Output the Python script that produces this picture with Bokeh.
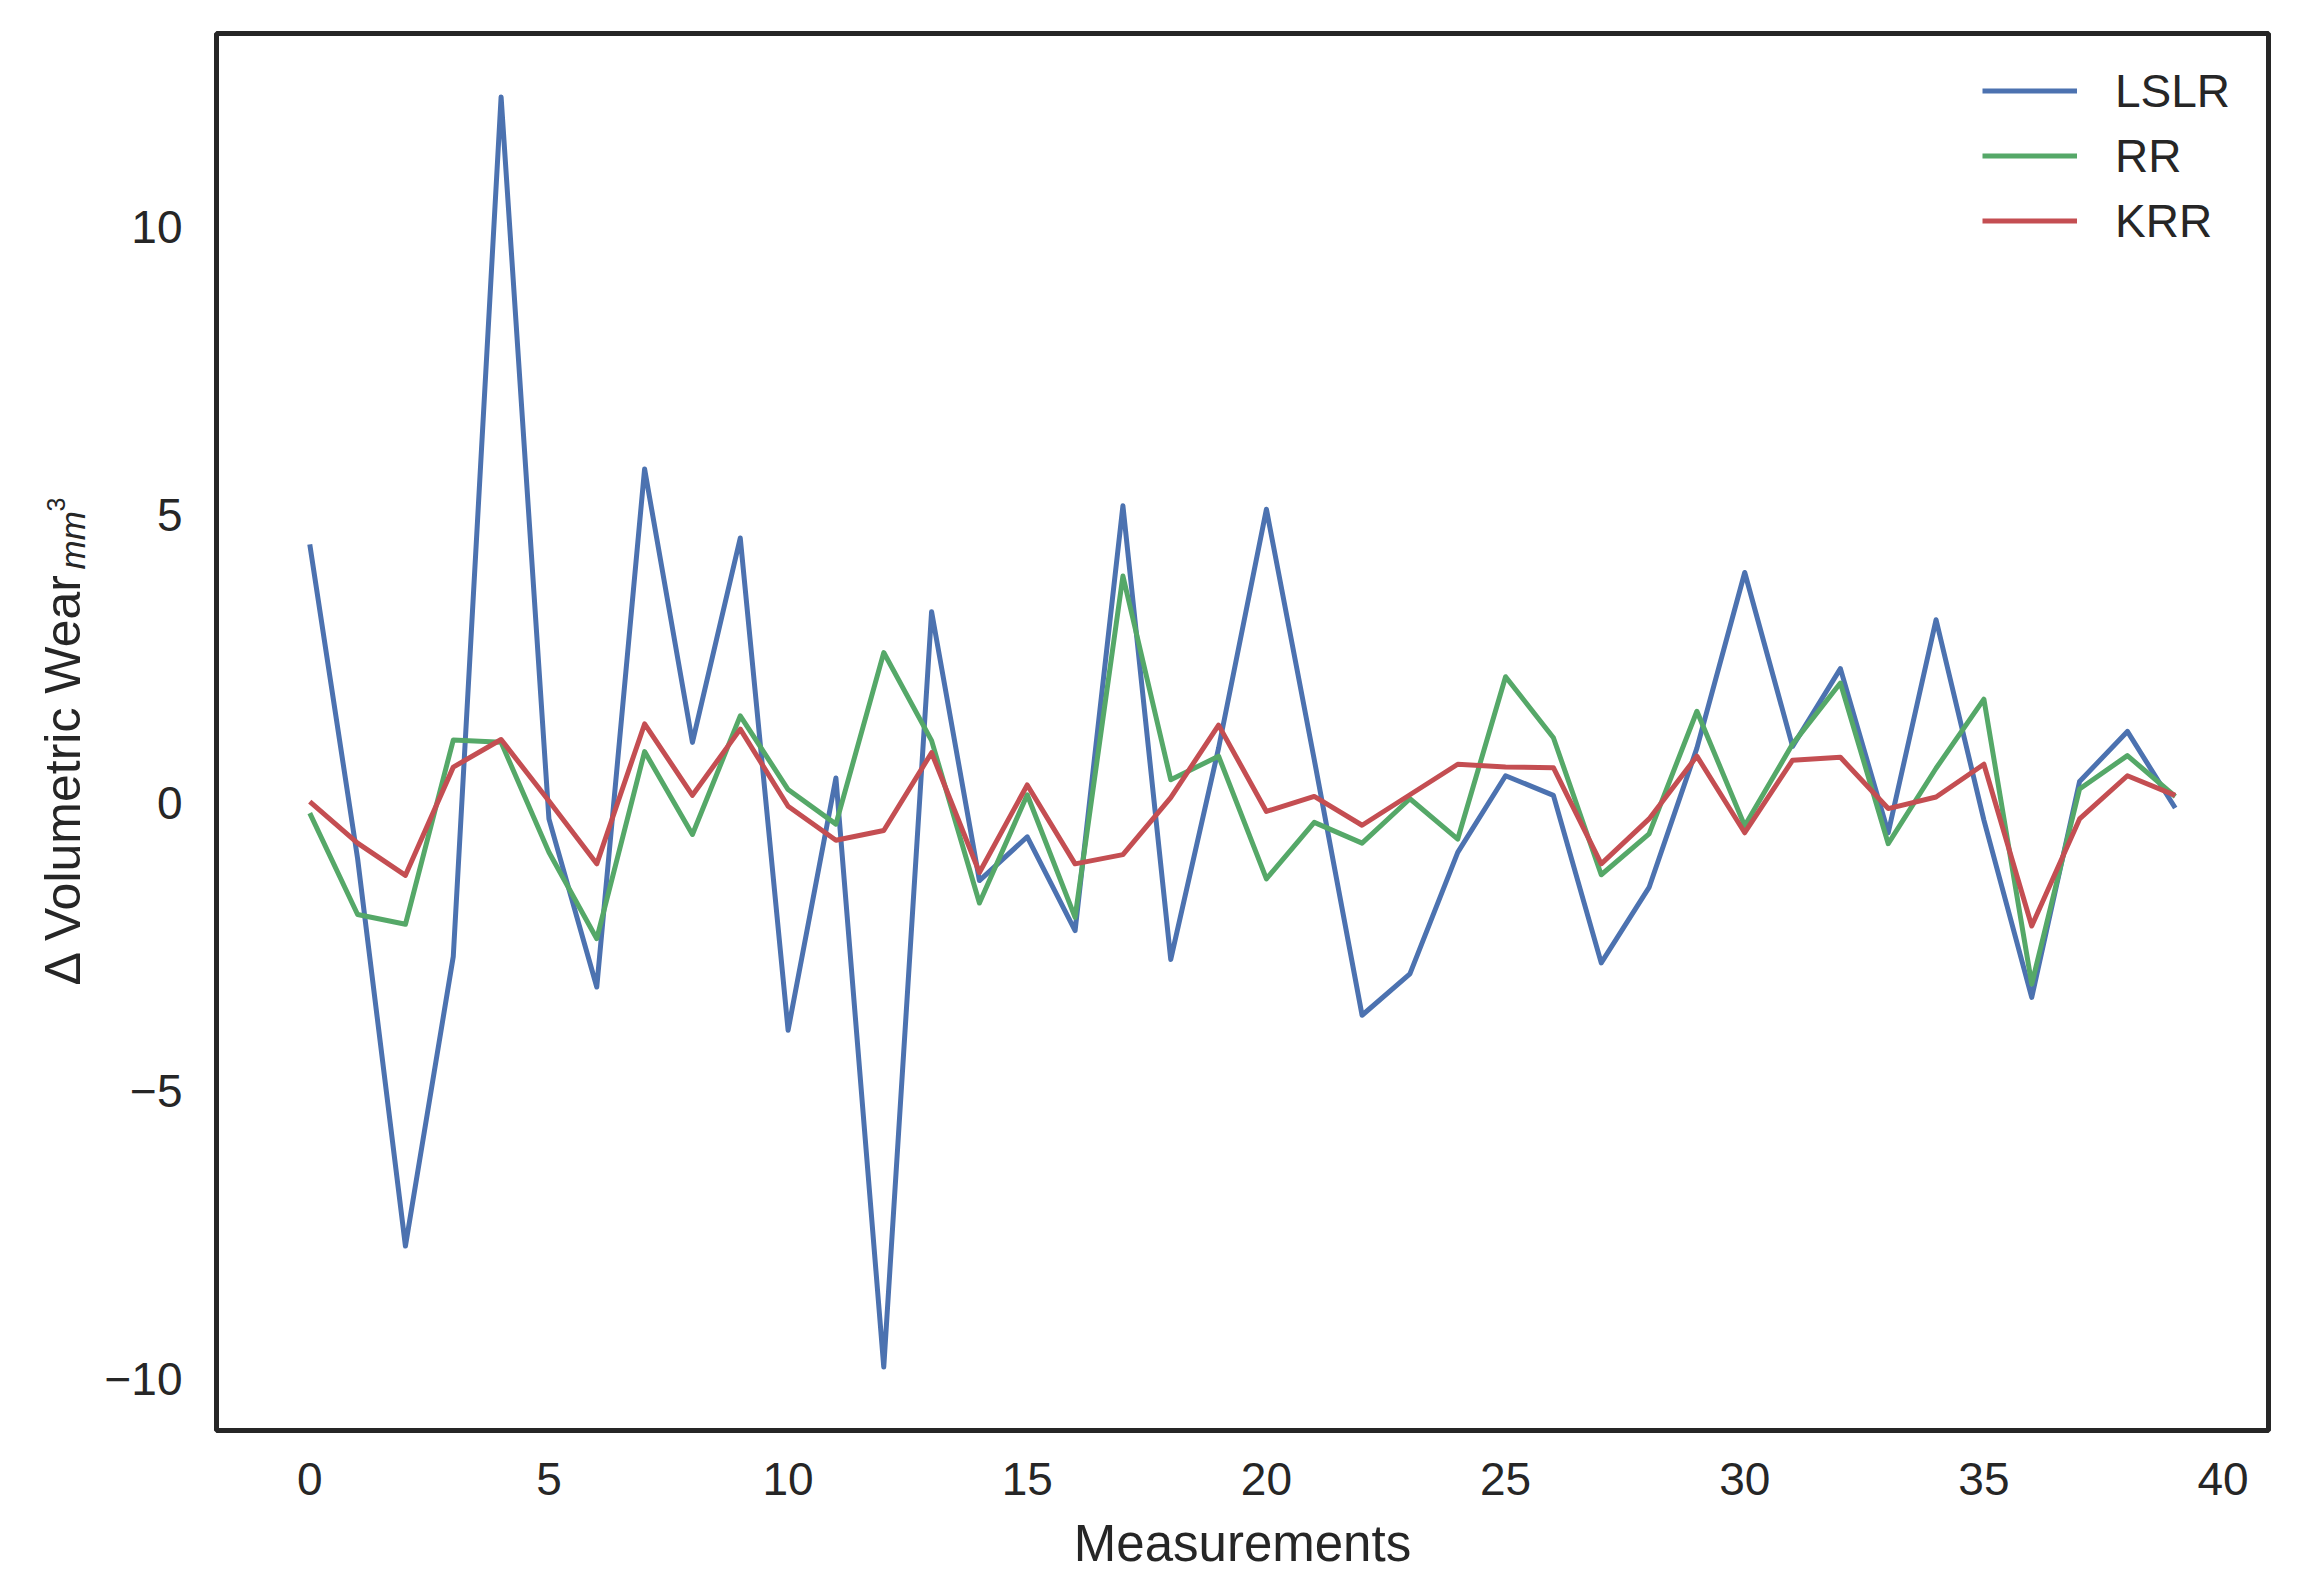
import numpy as np
from bokeh.plotting import figure
from bokeh.layouts import row
from bokeh.models import Range1d, FixedTicker, Legend, LegendItem, Label
from bokeh.embed import file_html
from bokeh.resources import INLINE

# ---------------- data ----------------
measurements = list(range(40))
lslr = [4.49, -0.97, -7.70, -2.67, 12.26, -0.28, -3.20, 5.80, 1.05, 4.60,
        -3.95, 0.43, -9.80, 3.32, -1.35, -0.59, -2.22, 5.16, -2.72, 0.95,
        5.10, 0.75, -3.69, -2.97, -0.86, 0.47, 0.13, -2.78, -1.47, 0.95,
        4.00, 0.98, 2.33, -0.52, 3.18, -0.30, -3.38, 0.37, 1.24, -0.09]
rr = [-0.18, -1.94, -2.11, 1.09, 1.05, -0.86, -2.36, 0.89, -0.55, 1.51,
      0.23, -0.37, 2.61, 1.08, -1.74, 0.14, -1.99, 3.94, 0.40, 0.81,
      -1.32, -0.34, -0.70, 0.07, -0.63, 2.19, 1.13, -1.25, -0.54, 1.59,
      -0.40, 1.02, 2.08, -0.71, 0.60, 1.80, -3.15, 0.24, 0.82, 0.11]
krr = [0.02, -0.70, -1.26, 0.62, 1.10, 0.03, -1.06, 1.37, 0.13, 1.28,
       -0.06, -0.65, -0.48, 0.87, -1.21, 0.31, -1.06, -0.90, 0.09, 1.35,
       -0.15, 0.11, -0.39, 0.14, 0.67, 0.62, 0.61, -1.06, -0.28, 0.81,
       -0.52, 0.74, 0.79, -0.10, 0.10, 0.67, -2.14, -0.28, 0.47, 0.13]
series_names = ["LSLR", "RR", "KRR"]
x_ticks = [0, 5, 10, 15, 20, 25, 30, 35, 40]
y_ticks = [-10, -5, 0, 5, 10]
y_label_main = "\u0394 Volumetric Wear"
y_label_sub = "mm"
y_label_sup = "3"

# ---------------- style ----------------
colors = ["#4C72B0", "#55A868", "#C44E52"]
TXT = "#262626"
FONT = "Liberation Sans"

H = 1580
LW = 90            # width of the strip holding the y-axis label
W = 2300 - LW
BOTTOM = 150       # bottom border (frame bottom at H - BOTTOM)

xlo, xhi = min(measurements), max(measurements)
xpad = 0.05 * (xhi - xlo)
allv = lslr + rr + krr
ylo, yhi = min(allv), max(allv)
ypad = 0.05 * (yhi - ylo)

p = figure(width=W, height=H, output_backend="svg", toolbar_location=None,
           x_range=Range1d(xlo - xpad, xhi + xpad),
           y_range=Range1d(ylo - ypad, yhi + ypad),
           min_border_left=216 - LW, min_border_right=32,
           min_border_top=33, min_border_bottom=BOTTOM)

p.background_fill_color = "white"
p.border_fill_color = "white"
p.outline_line_color = TXT
p.outline_line_width = 5
p.xgrid.grid_line_color = None
p.ygrid.grid_line_color = None

for ax in (p.xaxis, p.yaxis):
    ax.axis_line_color = None
    ax.major_tick_line_color = None
    ax.minor_tick_line_color = None
    ax.major_tick_out = 0
    ax.major_tick_in = 0
    ax.minor_tick_out = 0
    ax.minor_tick_in = 0
    ax.major_label_text_font = FONT
    ax.major_label_text_font_size = "46px"
    ax.major_label_text_color = TXT

p.xaxis.ticker = FixedTicker(ticks=x_ticks)
p.yaxis.ticker = FixedTicker(ticks=y_ticks)
p.yaxis.major_label_overrides = {t: ("\u2212" + str(abs(t)) if t < 0 else str(t)) for t in y_ticks}
p.xaxis.major_label_standoff = 32
p.yaxis.major_label_standoff = 34

p.xaxis.axis_label = "Measurements"
p.xaxis.axis_label_text_font = FONT
p.xaxis.axis_label_text_font_size = "51px"
p.xaxis.axis_label_text_font_style = "normal"
p.xaxis.axis_label_text_color = TXT
p.xaxis.axis_label_standoff = 17

renderers = []
for vals, c in zip([lslr, rr, krr], colors):
    r = p.line(measurements, vals, line_color=c, line_width=5, line_join="round")
    renderers.append(r)

legend = Legend(items=[LegendItem(label=n, renderers=[r]) for n, r in zip(series_names, renderers)],
                location=(1766, 1177))
legend.border_line_color = None
legend.background_fill_alpha = 0
legend.padding = 0
legend.margin = 0
legend.spacing = 0
legend.glyph_width = 95
legend.glyph_height = 65
legend.label_height = 65
legend.label_standoff = 38
legend.label_text_font = FONT
legend.label_text_font_size = "46px"
legend.label_text_color = TXT
legend.label_text_baseline = "middle"
p.add_layout(legend)

# ---------------- y-axis label strip ----------------
lab = figure(width=LW, height=H, output_backend="svg", toolbar_location=None,
             x_axis_type=None, y_axis_type=None,
             x_range=Range1d(0, LW), y_range=Range1d(0, H),
             min_border_left=0, min_border_right=0, min_border_top=0, min_border_bottom=0)
lab.outline_line_color = None
lab.background_fill_color = "white"
lab.border_fill_color = "white"
lab.xgrid.grid_line_color = None
lab.ygrid.grid_line_color = None

# frames of the row are aligned, so y is measured from the main frame's bottom
base_y = (H - BOTTOM) - 985
lab_main = Label(x=62, y=base_y, x_units="screen", y_units="screen",
                 text=y_label_main, angle=90, angle_units="deg",
                 text_align="left", text_baseline="alphabetic",
                 text_font=FONT, text_font_size="50px", text_color=TXT)
lab_sub = Label(x=72, y=base_y + 416, x_units="screen", y_units="screen",
                text=y_label_sub, angle=90, angle_units="deg",
                text_align="left", text_baseline="alphabetic",
                text_font=FONT, text_font_size="35px", text_font_style="italic",
                text_color=TXT)
lab_sup = Label(x=55, y=base_y + 474, x_units="screen", y_units="screen",
                text=y_label_sup, angle=90, angle_units="deg",
                text_align="left", text_baseline="alphabetic",
                text_font=FONT, text_font_size="25px", text_color=TXT)
for l in (lab_main, lab_sub, lab_sup):
    lab.add_layout(l)

layout = row(lab, p, spacing=0)
open("out.html", "w").write(file_html(layout, INLINE))
